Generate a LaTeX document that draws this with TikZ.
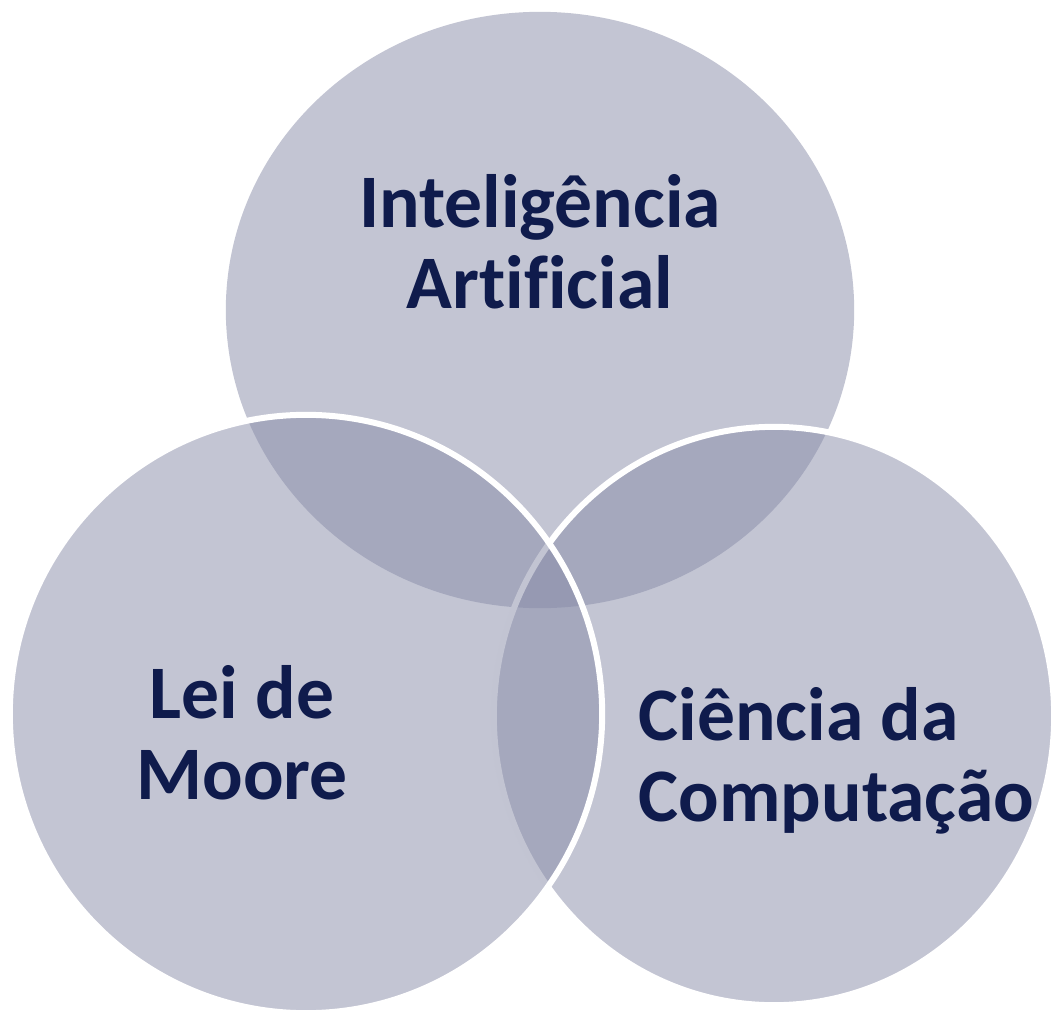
\documentclass[tikz,border=0pt]{standalone}
\usepackage{fontspec}
\setmainfont{Carlito}[Ligatures=CommonOff]
\definecolor{vennfill}{RGB}{135,139,167}
\definecolor{vennink}{RGB}{15,27,76}
\begin{document}
\begin{tikzpicture}[x=0.01cm, y=-0.01cm,
  setdisc/.style={fill=vennfill, fill opacity=0.5, draw=white, line width=0.06cm},
  settext/.style={text=vennink, inner sep=0pt,
    font=\fontsize{21.5}{23}\selectfont\bfseries}]
  \useasboundingbox (0,0) rectangle (1054,1015);
  % the three sets: top first, then right, then left
  \fill[vennfill, fill opacity=0.5] (540,310) ellipse [x radius=3.14cm, y radius=2.98cm];
  \draw[setdisc] (774,716) ellipse [x radius=2.80cm, y radius=2.89cm];
  \draw[setdisc] (306,714) ellipse [x radius=2.96cm, y radius=2.99cm];
  % labels
  \node[settext, align=center] (ia) at (540,242) {Inteligência\\Artificial};
  \node[settext, align=center] (moore) at (242,733) {Lei de\\Moore};
  \node[settext, align=left, anchor=west] (cc) at (638,761) {Ciência da\\Computação};
\end{tikzpicture}
\end{document}
